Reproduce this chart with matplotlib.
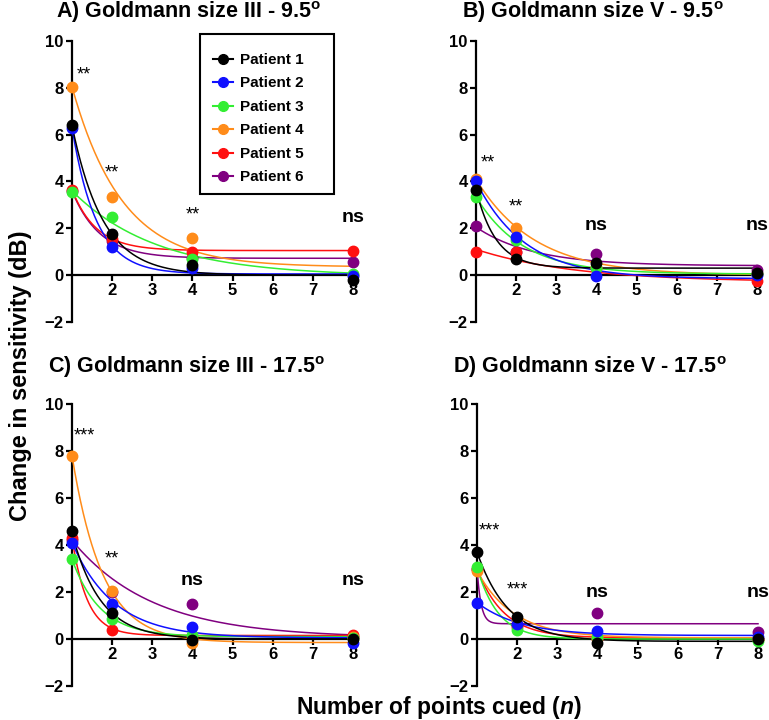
import numpy as np
import matplotlib
matplotlib.use("Agg")
import matplotlib.pyplot as plt
from matplotlib.patches import Rectangle

plt.rcParams['font.family'] = ['Liberation Sans', 'DejaVu Sans']
plt.rcParams['mathtext.fontset'] = 'custom'
plt.rcParams['mathtext.rm'] = 'Liberation Sans:bold'
plt.rcParams['mathtext.it'] = 'Liberation Sans:italic:bold'
plt.rcParams['mathtext.bf'] = 'Liberation Sans:bold'

# number of points cued
n_cued = [1, 2, 4, 8]
patients = ['Patient 1', 'Patient 2', 'Patient 3', 'Patient 4', 'Patient 5', 'Patient 6']
colors = ['#000000', '#1010ff', '#33ee33', '#ff8c1a', '#ff1010', '#800080']

# measured change in sensitivity (dB), one row per patient
A_vals = [[6.4, 1.75, 0.45, -0.2],
          [6.3, 1.2, 0.3, -0.05],
          [3.55, 2.5, 0.7, 0.05],
          [8.05, 3.35, 1.6, 0.0],
          [3.65, 1.55, 1.0, 1.05],
          [3.6, 1.45, 0.75, 0.55]]
B_vals = [[3.65, 0.7, 0.5, 0.1],
          [4.0, 1.65, -0.05, 0.0],
          [3.35, 1.5, 0.3, 0.05],
          [4.1, 2.0, 0.35, 0.05],
          [1.0, 1.0, 0.3, -0.25],
          [2.1, 1.0, 0.9, 0.2]]
C_vals = [[4.6, 1.1, -0.05, 0.0],
          [4.1, 1.5, 0.5, -0.15],
          [3.4, 0.85, 0.15, 0.05],
          [7.8, 2.05, -0.15, 0.1],
          [4.3, 0.4, 0.1, 0.15],
          [4.2, 2.0, 1.5, 0.1]]
D_vals = [[3.7, 0.95, -0.15, 0.0],
          [1.55, 0.65, 0.35, 0.1],
          [3.05, 0.4, 0.1, -0.1],
          [2.9, 0.8, 0.05, 0.0],
          [3.0, 0.5, 0.0, 0.0],
          [3.0, 0.6, 1.1, 0.3]]

# one-phase decay fits: (Y0, plateau, K)
A_fit = [(6.4, 0.0, 1.30), (6.3, 0.05, 1.65), (3.6, -0.05, 0.47),
         (8.05, 0.35, 0.80), (3.65, 1.05, 1.65), (3.6, 0.72, 1.44)]
B_fit = [(3.65, 0.3, 2.0), (4.0, -0.15, 0.82), (3.35, 0.05, 0.86),
         (4.1, 0.0, 0.69), (1.1, -0.3, 0.4), (2.05, 0.4, 0.7)]
C_fit = [(4.5, 0.0, 1.41), (4.1, 0.05, 0.95), (3.4, 0.1, 1.42),
         (7.8, -0.15, 1.31), (4.3, 0.15, 2.63), (4.2, 0.05, 0.50)]
D_fit = [(3.7, -0.1, 1.29), (1.55, 0.15, 0.93), (3.05, 0.0, 1.91),
         (2.9, 0.05, 1.1), (3.0, 0.05, 1.51), (3.0, 0.65, 10.0)]

# significance labels: (x, y, text)
A_sig = [(1.3, 8.55, '**'), (2, 4.35, '**'), (4, 2.55, '**'), (8, 2.45, 'ns')]
B_sig = [(1.3, 4.8, '**'), (2, 2.9, '**'), (4, 2.1, 'ns'), (8, 2.1, 'ns')]
C_sig = [(1.3, 8.65, '***'), (2, 3.4, '**'), (4, 2.5, 'ns'), (8, 2.5, 'ns')]
D_sig = [(1.3, 4.6, '***'), (2, 2.1, '***'), (4, 2.0, 'ns'), (8, 2.0, 'ns')]

titles = [r'A) Goldmann size III - 9.5$^{\mathrm{o}}$',
          r'B) Goldmann size V - 9.5$^{\mathrm{o}}$',
          r'C) Goldmann size III - 17.5$^{\mathrm{o}}$',
          r'D) Goldmann size V - 17.5$^{\mathrm{o}}$']

fig = plt.figure(figsize=(7.69, 7.2), dpi=100)

# axes rectangles [left, bottom, width, height]
rects = [[0.0936, 0.5528, 0.3654, 0.3903],
         [0.6190, 0.5528, 0.3654, 0.3903],
         [0.0936, 0.0472, 0.3654, 0.3917],
         [0.6203, 0.0472, 0.3654, 0.3917]]
title_pos = [(0.245, 0.983), (0.771, 0.983), (0.243, 0.490), (0.767, 0.490)]

panels = [(A_vals, A_fit, A_sig), (B_vals, B_fit, B_sig),
          (C_vals, C_fit, C_sig), (D_vals, D_fit, D_sig)]

xx = np.linspace(1, 8, 300)
axes = []
for i, (vals, fits, sigs) in enumerate(panels):
    ax = fig.add_axes(rects[i])
    axes.append(ax)
    for p in range(6):
        z = 10 - p
        y0, plat, k = fits[p]
        ax.plot(xx, plat + (y0 - plat) * np.exp(-k * (xx - 1)), color=colors[p],
                lw=1.1, zorder=z, clip_on=False)
        ax.plot(n_cued, vals[p], 'o', color=colors[p], ms=7.5, zorder=z + 10,
                clip_on=False, label=patients[p])
    for sx, sy, st in sigs:
        if st == 'ns':
            ax.text(sx, sy, st, ha='center', va='center', fontsize=14, fontweight='bold')
        else:
            ax.text(sx, sy, st, ha='center', va='center', fontsize=13)

    ax.set_xlim(1, 8)
    ax.set_ylim(-2, 10)
    ax.spines['top'].set_visible(False)
    ax.spines['right'].set_visible(False)
    ax.spines['bottom'].set_position(('data', 0))
    ax.spines['left'].set_linewidth(1.6)
    ax.spines['bottom'].set_linewidth(1.6)
    ax.set_xticks([2, 3, 4, 5, 6, 7, 8])
    ax.set_yticks([-2, 0, 2, 4, 6, 8, 10])
    ax.tick_params(width=1.6, length=4.5, labelsize=12, pad=1.5)
    for lab in ax.get_xticklabels() + ax.get_yticklabels():
        lab.set_fontweight('bold')
    ax.patch.set_alpha(0)

    fig.text(title_pos[i][0], title_pos[i][1], titles[i], ha='center', va='center',
             fontsize=15.5, fontweight='bold')

# legend in panel A (frame drawn separately)
hdl = []
for p in range(6):
    h, = axes[0].plot([], [], '-o', color=colors[p], ms=7, lw=1.5)
    hdl.append(h)
leg = axes[0].legend(hdl, patients, loc='upper left', bbox_to_anchor=(213 / 769, 1 - 53 / 720),
                     bbox_transform=fig.transFigure, borderaxespad=0, borderpad=0,
                     frameon=False, handlelength=1.3, handletextpad=0.5,
                     labelspacing=0.62, prop={'weight': 'bold', 'size': 11})
leg.set_zorder(30)
frame = Rectangle((200 / 769, 1 - 194 / 720), 134 / 769, 160 / 720,
                  transform=fig.transFigure, facecolor='white',
                  edgecolor='black', lw=1.5, zorder=25, clip_on=False)
axes[0].add_artist(frame)

fig.text(0.027, 0.478, 'Change in sensitivity (dB)', rotation=90, ha='center', va='center',
         fontsize=17, fontweight='bold')
fig.text(0.57, 0.018, r'Number of points cued ($\mathit{n}$)', ha='center', va='center',
         fontsize=16.5, fontweight='bold')

fig.savefig('out.png', dpi=100)
